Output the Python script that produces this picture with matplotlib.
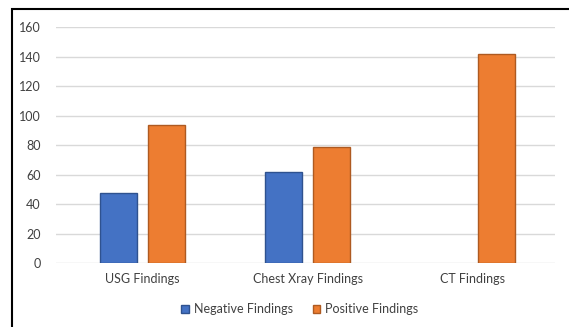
import matplotlib
matplotlib.use("Agg")
import matplotlib.pyplot as plt
from matplotlib.patches import Rectangle
import numpy as np

categories = ["USG Findings", "Chest Xray Findings", "CT Findings"]
negative = [48, 62, 0]
positive = [94, 79, 142]
series_names = ["Negative Findings", "Positive Findings"]
yticks = [0, 20, 40, 60, 80, 100, 120, 140, 160]

plt.rcParams['font.family'] = ['Lato', 'DejaVu Sans']

fig = plt.figure(figsize=(5.69, 3.27), dpi=100)
ax = fig.add_axes([56/569, 1-263.3/327, (555-56)/569, (263.3-27.3)/327])

x = np.arange(len(categories))
w = 0.224
off = 0.145
neg_plot = [v if v != 0 else np.nan for v in negative]
ax.bar(x - off, neg_plot, width=w, color="#4472C4", edgecolor="#2F528F", linewidth=1.0,
       label=series_names[0], zorder=3)
ax.bar(x + off, positive, width=w, color="#ED7D31", edgecolor="#AE5A21", linewidth=1.0,
       label=series_names[1], zorder=3)

ax.set_xlim(-0.525, 2.5)
ax.set_ylim(0, 160)
ax.set_yticks(yticks)
ax.set_xticks(x)
ax.set_xticklabels(categories)
ax.yaxis.grid(True, color="#D9D9D9", linewidth=1.0, zorder=0)
ax.set_axisbelow(True)
for s in ax.spines.values():
    s.set_visible(False)
ax.tick_params(axis='both', length=0, labelsize=9, colors="#404040")
ax.tick_params(axis='y', pad=11)
ax.tick_params(axis='x', pad=7)

leg = fig.legend(loc='center', bbox_to_anchor=(300/569, 1-309/327), ncol=2, frameon=False,
                 fontsize=9, handlelength=0.6, handleheight=0.6, handletextpad=0.4,
                 columnspacing=1.6, labelcolor="#404040")

fig.patches.append(Rectangle((12/569, -0.1), 1.5, 1-9/327+0.1, transform=fig.transFigure,
                             fill=False, edgecolor="black", linewidth=1.5, figure=fig))

fig.savefig("out.png", dpi=100)
